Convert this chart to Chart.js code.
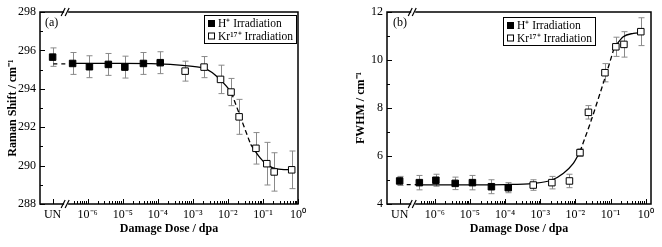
<!DOCTYPE html>
<html>
<head>
<meta charset="utf-8">
<script src="https://cdn.jsdelivr.net/npm/chart.js@4.4.1/dist/chart.umd.min.js"></script>
<style>
  html, body { margin: 0; padding: 0; background: #fff; }
  #wrap { position: relative; width: 662px; height: 247px; }
  .panel { position: absolute; top: 0; height: 247px; }
</style>
</head>
<body>
<div id="wrap">
  <div class="panel" style="left:0;width:320px"><canvas id="chartA"></canvas></div>
  <div class="panel" style="left:330px;width:332px"><canvas id="chartB"></canvas></div>
</div>
<script>
// x values are log10(dose / dpa); the unirradiated sample (UN) sits at -7
const xTicks = [-7, -6, -5, -4, -3, -2, -1, 0];
const xTickLabels = ['UN', '10⁻⁶', '10⁻⁵', '10⁻⁴', '10⁻³', '10⁻²', '10⁻¹', '10⁰'];
const breakX = -6.6;

// (a) Raman shift
const hDoseA = [-7.0, -6.43, -5.95, -5.41, -4.94, -4.41, -3.93];
const hShiftA = [295.65, 295.32, 295.15, 295.27, 295.13, 295.32, 295.36];
const hErrA = [0.48, 0.57, 0.57, 0.57, 0.57, 0.57, 0.57];
const krDoseA = [-3.22, -2.68, -2.21, -1.91, -1.68, -1.20, -0.89, -0.68, -0.18];
const krShiftA = [294.92, 295.13, 294.49, 293.83, 292.54, 290.9, 290.1, 289.67, 289.78];
const krErrA = [0.52, 0.55, 0.74, 0.71, 0.91, 0.82, 1.11, 1.0, 0.98];

// fitted curve (a)
const fitA0X = [-6.98, -6.52];
const fitA0Y = [295.3, 295.3];
const fitA1X = [-6.52, -5, -4, -3.3, -2.7, -2.45, -2.23, -2.05, -1.9];
const fitA1Y = [295.32, 295.32, 295.3, 295.22, 295.08, 294.85, 294.49, 294.15, 293.8];
const fitA2X = [-1.9, -1.65, -1.35];
const fitA2Y = [293.8, 292.57, 291.1];
const fitA3X = [-1.35, -1.08, -0.89, -0.61, -0.3, -0.13];
const fitA3Y = [291.1, 290.4, 290.05, 289.83, 289.79, 289.79];

// (b) FWHM
const hDoseB = [-7.0, -6.44, -5.97, -5.42, -4.93, -4.39, -3.91];
const hFwhmB = [4.96, 4.89, 4.99, 4.86, 4.89, 4.72, 4.68];
const hErrB = [0.19, 0.3, 0.25, 0.26, 0.3, 0.29, 0.21];
const krDoseB = [-3.20, -2.67, -2.17, -1.87, -1.63, -1.16, -0.85, -0.62, -0.14];
const krFwhmB = [4.79, 4.89, 4.96, 6.14, 7.82, 9.47, 10.55, 10.65, 11.18];
const krErrB = [0.22, 0.26, 0.28, 0.16, 0.28, 0.38, 0.4, 0.53, 0.58];

// fitted curve (b)
const fitB0X = [-6.8, -6.52];
const fitB0Y = [4.81, 4.81];
const fitB1X = [-6.5, -5, -4, -3.2, -2.67, -2.34, -2.06, -1.87];
const fitB1Y = [4.8, 4.8, 4.81, 4.86, 5.0, 5.28, 5.69, 6.18];
const fitB2X = [-1.87, -1.58, -1.3, -1.06, -0.9];
const fitB2Y = [6.18, 7.36, 8.61, 9.72, 10.5];
const fitB3X = [-0.9, -0.64, -0.35, -0.13];
const fitB3Y = [10.5, 10.97, 11.11, 11.14];

const legendLabels = ['H⁺ Irradiation', 'Kr¹⁷⁺ Irradiation'];

const serif = '"Liberation Serif", "Times New Roman", serif';

function pts(xs, ys) { return xs.map((x, i) => ({x: x, y: ys[i]})); }

function fitLine(xs, ys, dash) {
  return {
    data: pts(xs, ys), showLine: true, pointRadius: 0, borderColor: '#000',
    borderWidth: 1.3, borderDash: dash || [], cubicInterpolationMode: 'monotone', order: 2
  };
}

const errorBars = {
  id: 'errorBars',
  beforeDatasetsDraw(chart) {
    const {ctx, scales: {x, y}} = chart;
    ctx.save();
    ctx.strokeStyle = '#8a8a8a';
    ctx.lineWidth = 1;
    chart.data.datasets.forEach(ds => {
      if (!ds.errors) return;
      ds.data.forEach((p, i) => {
        const px = Math.round(x.getPixelForValue(p.x)) + 0.5;
        const y1 = y.getPixelForValue(p.y - ds.errors[i]);
        const y2 = y.getPixelForValue(p.y + ds.errors[i]);
        ctx.beginPath();
        ctx.moveTo(px, y1); ctx.lineTo(px, y2);
        ctx.moveTo(px - 3, y1); ctx.lineTo(px + 3, y1);
        ctx.moveTo(px - 3, y2); ctx.lineTo(px + 3, y2);
        ctx.stroke();
      });
    });
    ctx.restore();
  }
};

const frame = {
  id: 'frame',
  afterDatasetsDraw(chart) {
    const {ctx, chartArea: a, scales: {x, y}} = chart;
    ctx.save();
    ctx.strokeStyle = '#000';
    ctx.lineWidth = 1;
    ctx.beginPath();
    xTicks.forEach(v => {
      const px = Math.round(x.getPixelForValue(v)) + 0.5;
      ctx.moveTo(px, a.bottom); ctx.lineTo(px, a.bottom - 5);
    });
    for (let d = -7; d < 1; d++) {
      for (let k = 2; k < 10; k++) {
        const v = d + Math.log10(k);
        if (v <= breakX + 0.08 || v >= x.max) continue;
        const px = Math.round(x.getPixelForValue(v)) + 0.5;
        ctx.moveTo(px, a.bottom); ctx.lineTo(px, a.bottom - 3);
      }
    }
    y.ticks.forEach((t, i) => {
      const py = Math.round(y.getPixelForValue(t.value)) + 0.5;
      ctx.moveTo(a.left, py); ctx.lineTo(a.left + 5, py);
      if (i < y.ticks.length - 1) {
        const pm = Math.round(y.getPixelForValue(t.value + 1)) + 0.5;
        ctx.moveTo(a.left, pm); ctx.lineTo(a.left + 3, pm);
      }
    });
    ctx.stroke();

    ctx.lineWidth = 1.5;
    ctx.strokeRect(a.left, a.top, a.right - a.left, a.bottom - a.top);

    // axis break marks
    const bx = x.getPixelForValue(breakX);
    [a.top, a.bottom].forEach(py => {
      ctx.fillStyle = '#fff';
      ctx.fillRect(bx - 2.5, py - 2, 4, 4);
      ctx.beginPath();
      ctx.moveTo(bx - 5.5, py + 4); ctx.lineTo(bx - 1.5, py - 4);
      ctx.moveTo(bx - 1.5, py + 4); ctx.lineTo(bx + 2.5, py - 4);
      ctx.lineWidth = 1.2;
      ctx.stroke();
    });
    ctx.restore();
  }
};

const boxLegend = {
  id: 'boxLegend',
  afterDraw(chart, args, opts) {
    const {ctx, chartArea: a} = chart;
    ctx.save();
    ctx.font = '12px ' + serif;
    ctx.fillStyle = '#000';
    ctx.textBaseline = 'middle';
    ctx.fillText(opts.tag, a.left + opts.tagX, 23);

    const L = opts.left, T = opts.top, W = opts.width, H = 28;
    ctx.strokeStyle = '#000';
    ctx.lineWidth = 1;
    ctx.strokeRect(L + 0.5, T + 0.5, W, H);
    ctx.font = '11.5px ' + serif;
    legendLabels.forEach((lab, i) => {
      const cy = T + 8.5 + i * 12.5;
      const ds = chart.data.datasets[i];
      ctx.fillStyle = ds.backgroundColor;
      ctx.fillRect(L + 4.5, cy - 3, 6, 6);
      ctx.strokeStyle = '#000';
      ctx.strokeRect(L + 4.5, cy - 3, 6, 6);
      ctx.fillStyle = '#000';
      ctx.fillText(lab, L + 14, cy + 0.5);
    });
    ctx.restore();
  }
};

function makePanel(id, cfg) {
  return new Chart(document.getElementById(id), {
    type: 'scatter',
    data: {
      datasets: [
        {
          data: pts(cfg.hX, cfg.hY), errors: cfg.hErr, pointStyle: 'rect', pointRadius: 4.6,
          backgroundColor: '#000', borderColor: '#000', borderWidth: 1, order: 0
        },
        {
          data: pts(cfg.kX, cfg.kY), errors: cfg.kErr, pointStyle: 'rect', pointRadius: 4.6,
          backgroundColor: '#fff', borderColor: '#000', borderWidth: 1, order: 0
        },
        fitLine(cfg.f0X, cfg.f0Y, [4, 4]),
        fitLine(cfg.f1X, cfg.f1Y),
        fitLine(cfg.f2X, cfg.f2Y, [5, 3]),
        fitLine(cfg.f3X, cfg.f3Y)
      ]
    },
    options: {
      responsive: true,
      maintainAspectRatio: false,
      animation: false,
      layout: { padding: { left: 0, top: 12, right: cfg.padRight, bottom: 0 } },
      plugins: {
        legend: { display: false },
        tooltip: { enabled: false },
        boxLegend: cfg.legend
      },
      scales: {
        x: {
          type: 'linear', min: -7.36, max: cfg.xMax,
          grid: { display: false, drawTicks: false }, border: { display: false },
          afterBuildTicks: axis => { axis.ticks = xTicks.map(v => ({value: v})); },
          afterFit: axis => { axis.height = 43; },
          ticks: {
            autoSkip: false, maxRotation: 0, padding: 4, color: '#000',
            font: { family: serif, size: 12 },
            callback: v => xTickLabels[xTicks.indexOf(v)]
          },
          title: {
            display: true, text: 'Damage Dose / dpa', color: '#000',
            font: { family: serif, size: 12, weight: 'bold' },
            padding: { top: 0, bottom: 11 }
          }
        },
        y: {
          min: cfg.yMin, max: cfg.yMax,
          grid: { display: false, drawTicks: false }, border: { display: false },
          afterFit: axis => { axis.width = cfg.yWidth; },
          ticks: { stepSize: 2, padding: 4, color: '#000', font: { family: serif, size: 12 } },
          title: {
            display: true, text: cfg.yTitle, color: '#000',
            font: { family: serif, size: 12, weight: 'bold' },
            padding: { top: cfg.yTitlePad, bottom: 0 }
          }
        }
      }
    },
    plugins: [errorBars, frame, boxLegend]
  });
}

makePanel('chartA', {
  hX: hDoseA, hY: hShiftA, hErr: hErrA,
  kX: krDoseA, kY: krShiftA, kErr: krErrA,
  f0X: fitA0X, f0Y: fitA0Y, f1X: fitA1X, f1Y: fitA1Y,
  f2X: fitA2X, f2Y: fitA2Y, f3X: fitA3X, f3Y: fitA3Y,
  xMax: 0, yMin: 288, yMax: 298, yWidth: 40, yTitlePad: 6, padRight: 22,
  yTitle: 'Raman Shift / cm⁻¹',
  legend: { tag: '(a)', tagX: 5, left: 204, top: 15, width: 92 }
});

makePanel('chartB', {
  hX: hDoseB, hY: hFwhmB, hErr: hErrB,
  kX: krDoseB, kY: krFwhmB, kErr: krErrB,
  f0X: fitB0X, f0Y: fitB0Y, f1X: fitB1X, f1Y: fitB1Y,
  f2X: fitB2X, f2Y: fitB2Y, f3X: fitB3X, f3Y: fitB3Y,
  xMax: 0.15, yMin: 4, yMax: 12, yWidth: 57, yTitlePad: 24, padRight: 11,
  yTitle: 'FWHM / cm⁻¹',
  legend: { tag: '(b)', tagX: 6, left: 173, top: 17, width: 92 }
});
</script>
</body>
</html>
